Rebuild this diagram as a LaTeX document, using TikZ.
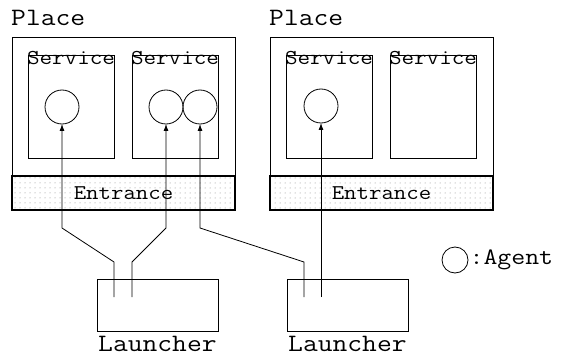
\documentclass[tikz,border=0pt]{standalone}
\usepackage{fontspec}
\setmonofont[FakeStretch=1.15]{Latin Modern Mono}
\usetikzlibrary{arrows.meta,patterns.meta}
\begin{document}
\begin{tikzpicture}[x=1pt,y=-1pt,
  every node/.style={font=\ttfamily},
  box/.style={draw,line width=0.8pt,inner sep=0pt,outer sep=0pt},
  placebox/.style={box,minimum width=223pt,minimum height=173pt},
  entrancebox/.style={draw,line width=1.6pt,inner sep=0pt,outer sep=0pt,
     minimum width=223pt,minimum height=34pt,
     pattern={Dots[distance=5pt,radius=0.5pt]},pattern color=gray,
     font=\ttfamily\fontsize{21}{21}\selectfont},
  servicebox/.style={box,minimum width=86pt,minimum height=103pt},
  servicelabel/.style={anchor=north,inner sep=0pt,font=\ttfamily\fontsize{21.2}{21.2}\selectfont},
  agent/.style={draw,circle,line width=0.8pt,minimum size=34pt,inner sep=0pt,outer sep=0pt},
  launcher/.style={box,minimum width=121pt,minimum height=52pt},
  biglabel/.style={anchor=base west,inner sep=0pt,font=\ttfamily\fontsize{25}{25}\selectfont},
  link/.style={line width=0.8pt},
  feed/.style={link,-{Latex[length=7pt,width=5pt]}}
]
\useasboundingbox (0,0) rectangle (569,358);

% places with their entrances
\node[placebox] (p1) at (123.5,123.5) {};
\node[placebox] (p2) at (381.5,123.5) {};
\node[entrancebox] (e1) at (123.5,193) {Entrance};
\node[entrancebox] (e2) at (381.5,193) {Entrance};
\node[biglabel] (p1l) at (11,26) {Place};
\node[biglabel] (p2l) at (269,26) {Place};

% services
\node[servicebox] (s1) at (71,106.5) {};
\node[servicebox] (s2) at (175,106.5) {};
\node[servicebox] (s3) at (329,106.5) {};
\node[servicebox] (s4) at (433,106.5) {};
\foreach \s in {s1,s2,s3,s4}
  \node[servicelabel] (\s l) at ([yshift=3.5pt]\s.north) {Service};

% agents
\node[agent] (a1) at (62,107) {};
\node[agent] (a2) at (166,107) {};
\node[agent] (a3) at (200,107) {};
\node[agent] (a4) at (321,106) {};

% launchers
\node[launcher] (l1) at (157.5,305) {};
\node[launcher] (l2) at (347.5,305) {};
\node[biglabel] (l1l) at (98,351.5) {Launcher};
\node[biglabel] (l2l) at (288,351.5) {Launcher};

% launch points inside the launchers
\coordinate (o1) at (114,297);
\coordinate (o2) at (132,297);
\coordinate (o3) at (304,297);
\coordinate (o4) at (321,297);

% paths from launchers to agents
\draw[feed] (o1) -- (114,262) -- (62,228) -- (a1.south);
\draw[feed] (o2) -- (132,262) -- (166,228) -- (a2.south);
\draw[feed] (o3) -- (304,262) -- (200,228) -- (a3.south);
\draw[feed] (o4) -- (a4.south);

% legend
\node[draw,circle,line width=0.8pt,minimum size=26pt,inner sep=0pt] (lg) at (455,260) {};
\node[anchor=west,inner sep=0pt,font=\ttfamily\fontsize{23.5}{23.5}\selectfont] (lgt) at ([xshift=1pt]lg.east) {:Agent};
\end{tikzpicture}
\end{document}
